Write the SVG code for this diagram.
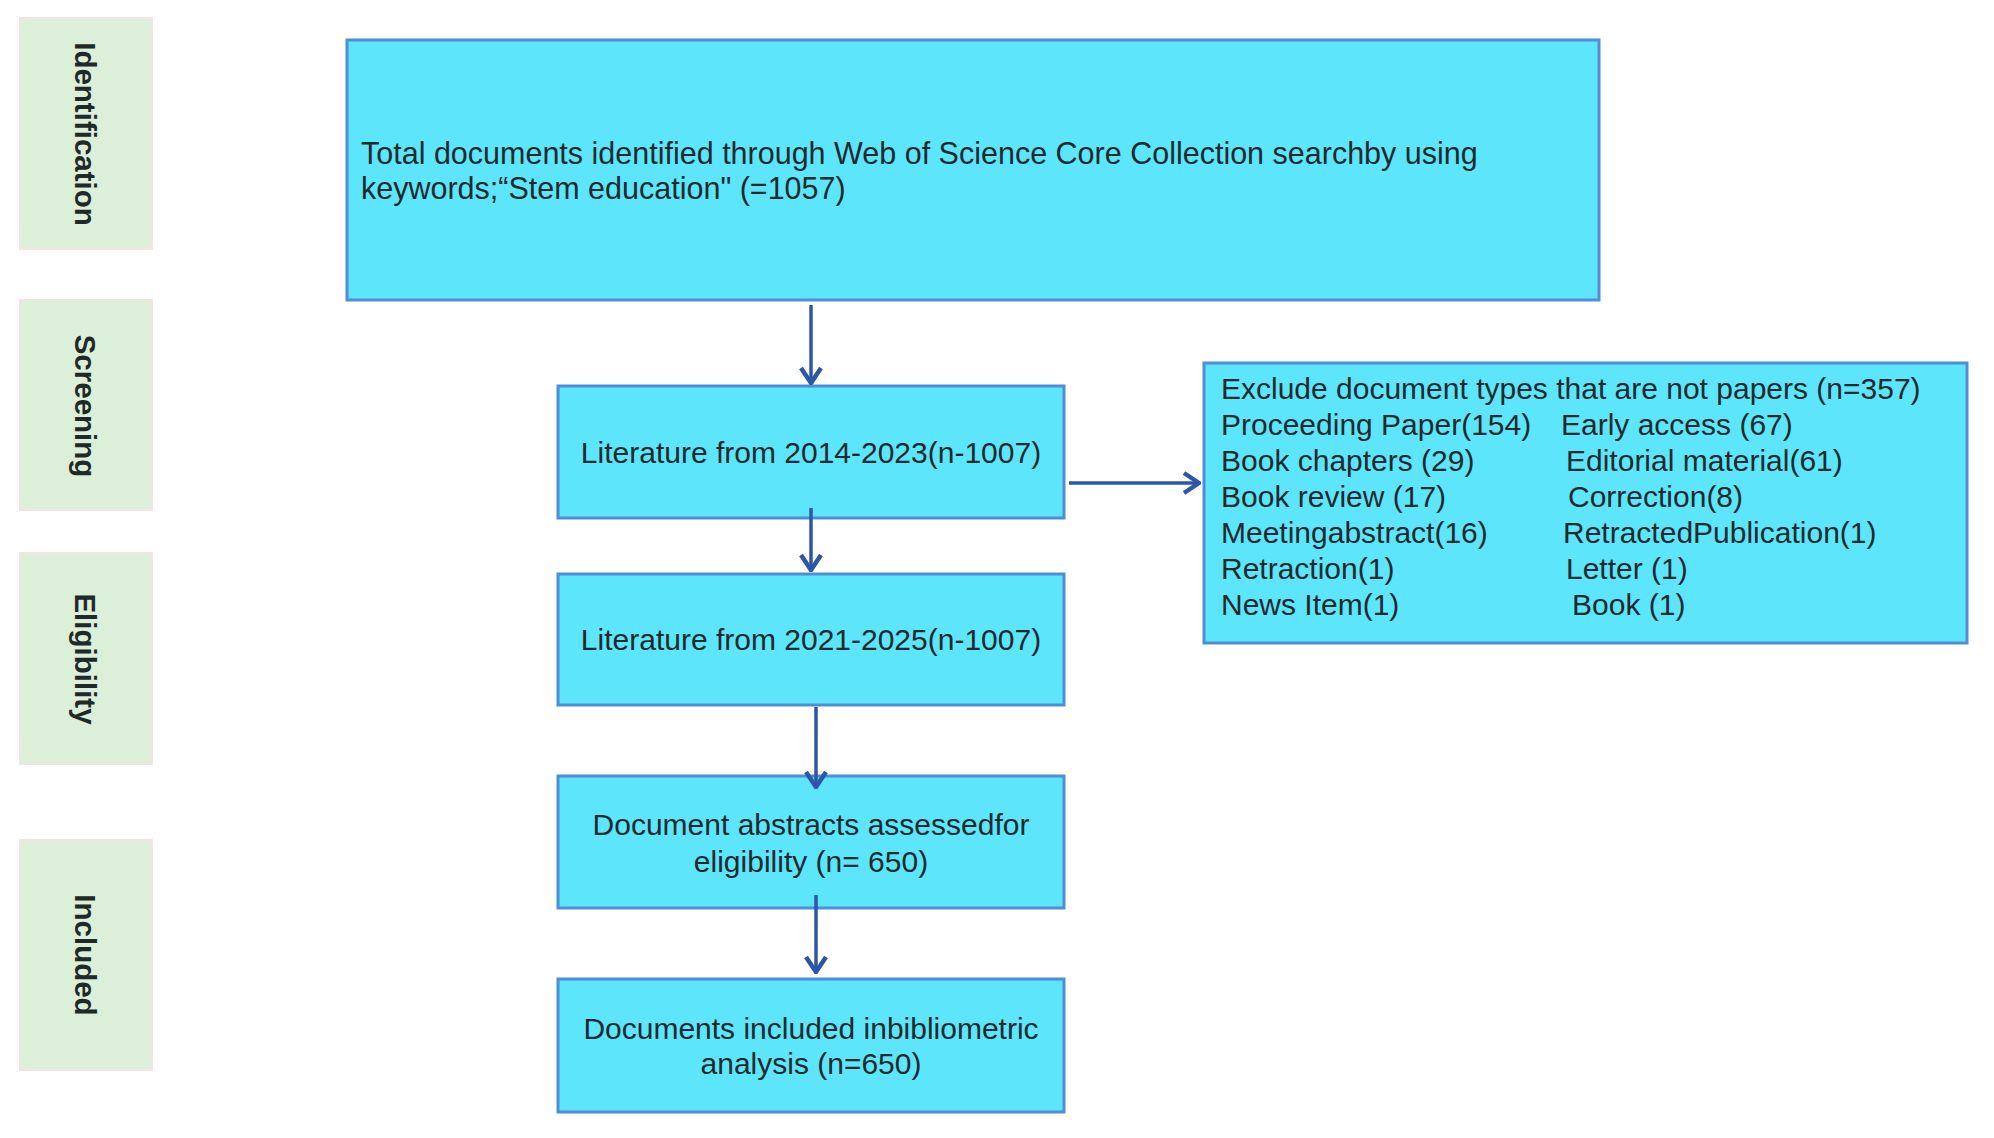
<svg xmlns="http://www.w3.org/2000/svg" width="1994" height="1138" viewBox="0 0 1994 1138">
  <style>
    .stage { fill: #dcefd9; stroke: #f6e2de; stroke-width: 2; }
    .stage-label { font-family: "Liberation Sans", Arial, sans-serif; font-size: 29.5px; font-weight: bold; fill: #1f2a28; text-anchor: middle; }
    .box { fill: #5ce5fb; stroke: #4f8ed6; stroke-width: 3; }
    .txt { font-family: "Liberation Sans", Arial, sans-serif; font-size: 30px; fill: #1e2a2e; }
    .big { font-size: 30.5px; }
    .mid { text-anchor: middle; }
    .conn { fill: none; stroke: #2d56a6; stroke-width: 3.5; }
  </style>
  <defs>
    <marker id="arrow" viewBox="0 0 22 24" refX="20" refY="12" markerWidth="22" markerHeight="24" markerUnits="userSpaceOnUse" orient="auto">
      <path d="M5,2 L20,12 L5,22" fill="none" stroke="#2d56a6" stroke-width="4.5" stroke-linejoin="miter"/>
    </marker>
  </defs>
  <rect width="1994" height="1138" fill="#ffffff"/>

  <g id="stage-identification">
    <rect class="stage" x="20" y="18" width="132" height="231"/>
    <text class="stage-label" transform="translate(75,134) rotate(90)">Identification</text>
  </g>
  <g id="stage-screening">
    <rect class="stage" x="20" y="300" width="132" height="210"/>
    <text class="stage-label" transform="translate(75,406) rotate(90)">Screening</text>
  </g>
  <g id="stage-eligibility">
    <rect class="stage" x="20" y="553" width="132" height="211"/>
    <text class="stage-label" transform="translate(75,659) rotate(90)">Eligibility</text>
  </g>
  <g id="stage-included">
    <rect class="stage" x="20" y="840" width="132" height="230"/>
    <text class="stage-label" transform="translate(75,955) rotate(90)">Included</text>
  </g>

  <g id="node-total">
    <rect class="box" x="347" y="40" width="1252" height="260"/>
    <text class="txt big" x="361" y="164">Total documents identified through Web of Science Core Collection searchby using</text>
    <text class="txt big" x="361" y="199">keywords;“Stem education" (=1057)</text>
  </g>

  <g id="node-lit1">
    <rect class="box" x="558" y="386" width="506" height="132"/>
    <text class="txt mid" x="811" y="463">Literature from 2014-2023(n-1007)</text>
  </g>

  <g id="node-lit2">
    <rect class="box" x="558" y="574" width="506" height="131"/>
    <text class="txt mid" x="811" y="650">Literature from 2021-2025(n-1007)</text>
  </g>

  <g id="node-abstracts">
    <rect class="box" x="558" y="776" width="506" height="132"/>
    <text class="txt mid" x="811" y="835">Document abstracts assessedfor</text>
    <text class="txt mid" x="811" y="872">eligibility (n= 650)</text>
  </g>

  <g id="node-included">
    <rect class="box" x="558" y="979" width="506" height="133"/>
    <text class="txt mid" x="811" y="1039">Documents included inbibliometric</text>
    <text class="txt mid" x="811" y="1074">analysis (n=650)</text>
  </g>

  <g id="node-exclude">
    <rect class="box" x="1204" y="363" width="763" height="280"/>
    <text class="txt" x="1221" y="399">Exclude document types that are not papers (n=357)</text>
    <text class="txt" x="1221" y="435">Proceeding Paper(154)</text>
    <text class="txt" x="1561" y="435">Early access (67)</text>
    <text class="txt" x="1221" y="471">Book chapters (29)</text>
    <text class="txt" x="1566" y="471">Editorial material(61)</text>
    <text class="txt" x="1221" y="507">Book review (17)</text>
    <text class="txt" x="1568" y="507">Correction(8)</text>
    <text class="txt" x="1221" y="543">Meetingabstract(16)</text>
    <text class="txt" x="1563" y="543">RetractedPublication(1)</text>
    <text class="txt" x="1221" y="579">Retraction(1)</text>
    <text class="txt" x="1566" y="579">Letter (1)</text>
    <text class="txt" x="1221" y="615">News Item(1)</text>
    <text class="txt" x="1572" y="615">Book (1)</text>
  </g>

  <g id="connectors">
    <path class="conn" d="M811,305 L811,383" marker-end="url(#arrow)"/>
    <path class="conn" d="M811,508 L811,570" marker-end="url(#arrow)"/>
    <path class="conn" d="M816,707 L816,787" marker-end="url(#arrow)"/>
    <path class="conn" d="M816,895 L816,972" marker-end="url(#arrow)"/>
    <path class="conn" d="M1069,483 L1199,483" marker-end="url(#arrow)"/>
  </g>
</svg>
